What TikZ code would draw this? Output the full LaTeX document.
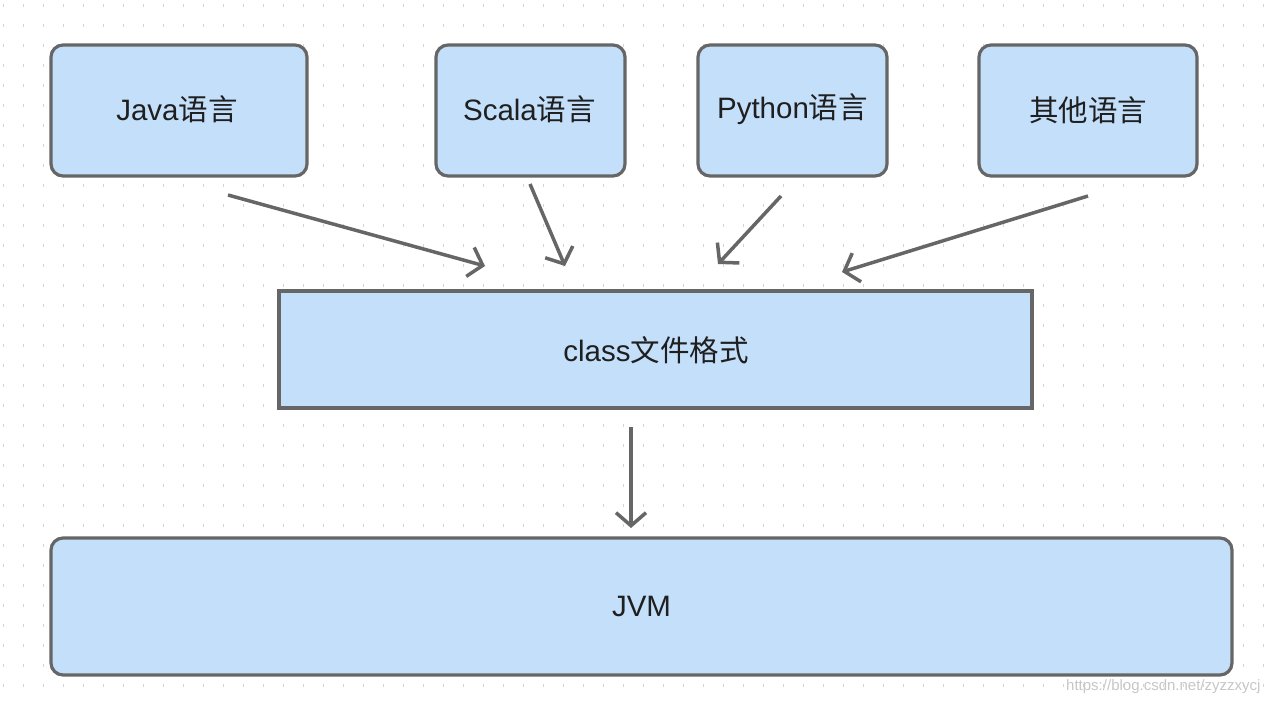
\documentclass[tikz,border=0pt]{standalone}
\usepackage{fontspec}
\setmainfont{Liberation Sans}
\newfontfamily\cjk{Noto Sans CJK SC}
\usetikzlibrary{arrows.meta}
\definecolor{boxfill}{HTML}{C4DFFA}
\definecolor{boxline}{HTML}{666666}
\definecolor{dotc}{HTML}{D4D4D4}
\tikzset{
  langbox/.style={draw=boxline, fill=boxfill, line width=3.2pt, rounded corners=12pt},
  flatbox/.style={draw=boxline, fill=boxfill, line width=3.2pt},
  lbl/.style={font=\fontsize{29.5}{33}\selectfont, text=black!88},
  conn/.style={draw=boxline, line width=3.5pt, -{Straight Barb[length=13pt,width=30pt]}},
}
\begin{document}
\begin{tikzpicture}[x=1pt,y=-1pt]
\useasboundingbox (0,0) rectangle (1272,704);
\fill[white] (0,0) rectangle (1272,704);
% dotted grid
\foreach \i in {0,...,63}{
  \foreach \j in {0,...,34}{
    \draw[dotc, line width=0.8pt] ({3+20*\i},{4+20*\j}) -- ++(0,3);
  }
}
% boxes
\draw[langbox] (51,45) rectangle (307,176);
\node[lbl] (java) at (177,109.5) {Java{\cjk 语言}};
\draw[langbox] (436,45) rectangle (625,176);
\node[lbl] (scala) at (529.5,109.5) {Scala{\cjk 语言}};
\draw[langbox] (698,45) rectangle (887,176);
\node[lbl] (python) at (792.5,109.5) {Python{\cjk 语言}};
\draw[langbox] (979,45) rectangle (1197,176);
\node[lbl] (other) at (1088,110.5) {\cjk 其他语言};
\draw[flatbox] (279,291) rectangle (1032,408);
\node[lbl] (class) at (656,350) {class{\cjk 文件格式}};
\draw[langbox] (51,538) rectangle (1232,675);
\node[lbl] (jvm) at (641.5,606) {JVM};
% connector endpoints
\coordinate (a1s) at (228,195); \coordinate (a1e) at (485,266);
\coordinate (a2s) at (530,184); \coordinate (a2e) at (565,266);
\coordinate (a3s) at (781,196); \coordinate (a3e) at (718,264);
\coordinate (a4s) at (1088,196); \coordinate (a4e) at (842,272);
\coordinate (a5s) at (631,427); \coordinate (a5e) at (631,528);
\draw[conn] (a1s) -- (a1e);
\draw[conn] (a2s) -- (a2e);
\draw[conn] (a3s) -- (a3e);
\draw[conn] (a4s) -- (a4e);
\draw[conn] (a5s) -- (a5e);
% watermark
\node[anchor=east, text=black!22, font=\fontsize{15}{17}\selectfont] (wm) at (1264,687) {https://blog.csdn.net/zyzzxycj};
\end{tikzpicture}
\end{document}
